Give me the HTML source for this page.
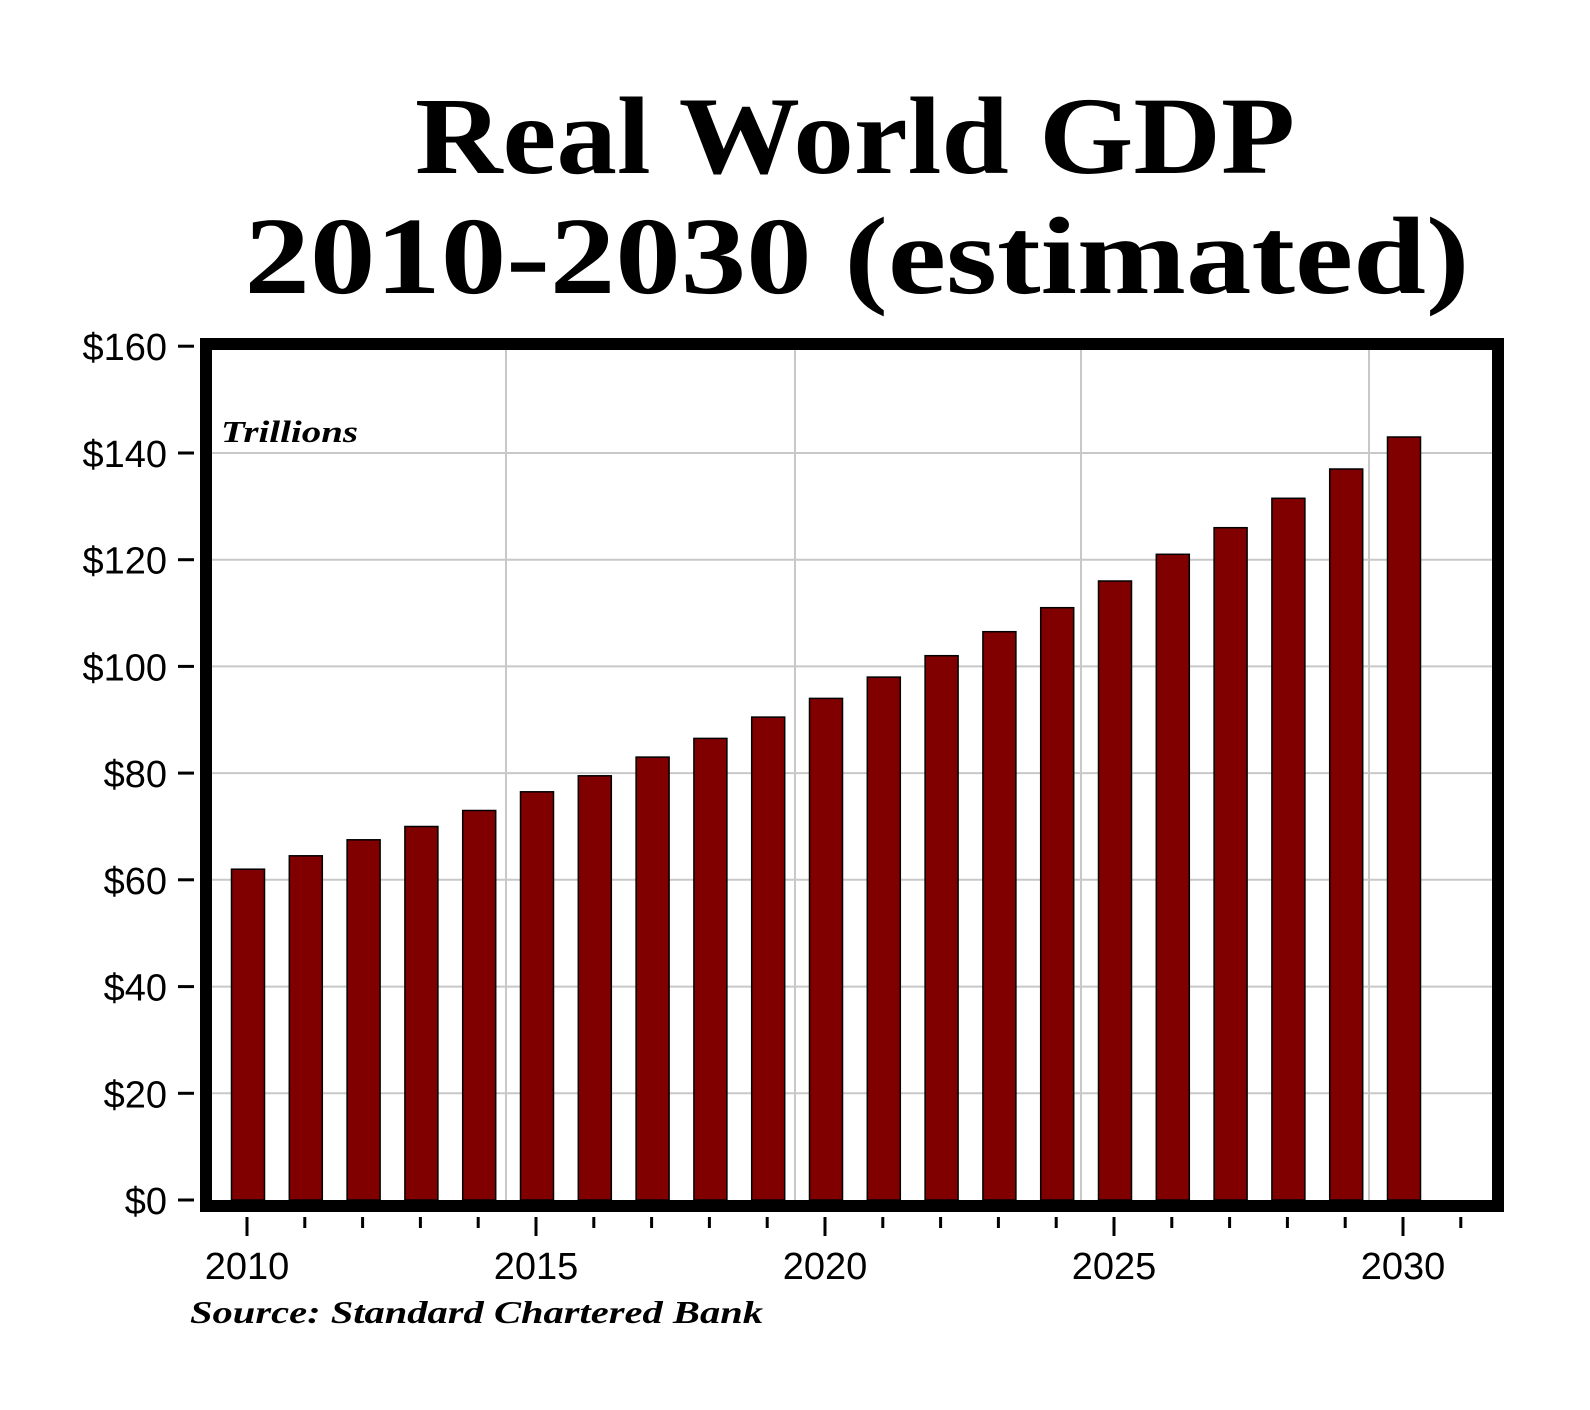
<!DOCTYPE html>
<html><head><meta charset="utf-8"><style>html,body{margin:0;padding:0;background:#fff}svg{display:block}</style></head>
<body>
<svg width="1590" height="1410" viewBox="0 0 1590 1410" xmlns="http://www.w3.org/2000/svg">
<rect width="1590" height="1410" fill="#fff"/>
<text x="855" y="173" text-anchor="middle" font-family="Liberation Serif, serif" font-weight="bold" font-size="110" textLength="880" lengthAdjust="spacingAndGlyphs">Real World GDP</text>
<text x="857" y="293" text-anchor="middle" font-family="Liberation Serif, serif" font-weight="bold" font-size="110" textLength="1225" lengthAdjust="spacingAndGlyphs">2010-2030 (estimated)</text>
<g stroke="#c8c8c8" stroke-width="2">
<line x1="212" x2="1492" y1="1093.3" y2="1093.3"/><line x1="212" x2="1492" y1="986.6" y2="986.6"/><line x1="212" x2="1492" y1="879.8" y2="879.8"/><line x1="212" x2="1492" y1="773.1" y2="773.1"/><line x1="212" x2="1492" y1="666.4" y2="666.4"/><line x1="212" x2="1492" y1="559.7" y2="559.7"/><line x1="212" x2="1492" y1="453" y2="453"/>
<line x1="506" x2="506" y1="350" y2="1200"/><line x1="795" x2="795" y1="350" y2="1200"/><line x1="1081" x2="1081" y1="350" y2="1200"/><line x1="1369" x2="1369" y1="350" y2="1200"/>
</g>
<g fill="#800000" stroke="#000" stroke-width="1.5">
<rect x="231.5" y="869.2" width="33" height="330.8"/>
<rect x="289.3" y="855.8" width="33" height="344.2"/>
<rect x="347.1" y="839.8" width="33" height="360.2"/>
<rect x="404.9" y="826.5" width="33" height="373.5"/>
<rect x="462.7" y="810.5" width="33" height="389.5"/>
<rect x="520.5" y="791.8" width="33" height="408.2"/>
<rect x="578.3" y="775.8" width="33" height="424.2"/>
<rect x="636.1" y="757.1" width="33" height="442.9"/>
<rect x="693.9" y="738.4" width="33" height="461.6"/>
<rect x="751.7" y="717.1" width="33" height="482.9"/>
<rect x="809.5" y="698.4" width="33" height="501.6"/>
<rect x="867.3" y="677.1" width="33" height="522.9"/>
<rect x="925.1" y="655.7" width="33" height="544.3"/>
<rect x="982.9" y="631.7" width="33" height="568.3"/>
<rect x="1040.7" y="607.7" width="33" height="592.3"/>
<rect x="1098.5" y="581.0" width="33" height="619.0"/>
<rect x="1156.3" y="554.3" width="33" height="645.7"/>
<rect x="1214.1" y="527.7" width="33" height="672.3"/>
<rect x="1271.9" y="498.3" width="33" height="701.7"/>
<rect x="1329.7" y="469.0" width="33" height="731.0"/>
<rect x="1387.5" y="437.0" width="33" height="763.0"/>
</g>
<rect x="206" y="344" width="1292" height="862" fill="none" stroke="#000" stroke-width="12"/>
<g stroke="#000" stroke-width="3">
<line x1="247" x2="247" y1="1217" y2="1236"/>
<line x1="304.8" x2="304.8" y1="1217" y2="1228"/>
<line x1="362.6" x2="362.6" y1="1217" y2="1228"/>
<line x1="420.4" x2="420.4" y1="1217" y2="1228"/>
<line x1="478.2" x2="478.2" y1="1217" y2="1228"/>
<line x1="536" x2="536" y1="1217" y2="1236"/>
<line x1="593.8" x2="593.8" y1="1217" y2="1228"/>
<line x1="651.6" x2="651.6" y1="1217" y2="1228"/>
<line x1="709.4" x2="709.4" y1="1217" y2="1228"/>
<line x1="767.2" x2="767.2" y1="1217" y2="1228"/>
<line x1="825" x2="825" y1="1217" y2="1236"/>
<line x1="882.8" x2="882.8" y1="1217" y2="1228"/>
<line x1="940.6" x2="940.6" y1="1217" y2="1228"/>
<line x1="998.4" x2="998.4" y1="1217" y2="1228"/>
<line x1="1056.2" x2="1056.2" y1="1217" y2="1228"/>
<line x1="1114" x2="1114" y1="1217" y2="1236"/>
<line x1="1171.8" x2="1171.8" y1="1217" y2="1228"/>
<line x1="1229.6" x2="1229.6" y1="1217" y2="1228"/>
<line x1="1287.4" x2="1287.4" y1="1217" y2="1228"/>
<line x1="1345.2" x2="1345.2" y1="1217" y2="1228"/>
<line x1="1403" x2="1403" y1="1217" y2="1236"/>
<line x1="1460.8" x2="1460.8" y1="1217" y2="1228"/>
<line x1="178" x2="194" y1="1200" y2="1200"/>
<line x1="178" x2="194" y1="1093.3" y2="1093.3"/>
<line x1="178" x2="194" y1="986.6" y2="986.6"/>
<line x1="178" x2="194" y1="879.8" y2="879.8"/>
<line x1="178" x2="194" y1="773.1" y2="773.1"/>
<line x1="178" x2="194" y1="666.4" y2="666.4"/>
<line x1="178" x2="194" y1="559.7" y2="559.7"/>
<line x1="178" x2="194" y1="453" y2="453"/>
<line x1="178" x2="194" y1="346.2" y2="346.2"/>
</g>
<g font-family="Liberation Sans, sans-serif" font-size="38" text-anchor="end">
<text x="167" y="1214">$0</text>
<text x="167" y="1107.3">$20</text>
<text x="167" y="1000.6">$40</text>
<text x="167" y="893.8">$60</text>
<text x="167" y="787.1">$80</text>
<text x="167" y="680.4">$100</text>
<text x="167" y="573.7">$120</text>
<text x="167" y="467">$140</text>
<text x="167" y="360.2">$160</text>
</g>
<g font-family="Liberation Sans, sans-serif" font-size="38" text-anchor="middle">
<text x="247" y="1279">2010</text><text x="536" y="1279">2015</text><text x="825" y="1279">2020</text><text x="1114" y="1279">2025</text><text x="1403" y="1279">2030</text>
</g>
<text x="221" y="442" font-family="Liberation Serif, serif" font-weight="bold" font-style="italic" font-size="31" textLength="137" lengthAdjust="spacingAndGlyphs">Trillions</text>
<text x="190" y="1323" font-family="Liberation Serif, serif" font-weight="bold" font-style="italic" font-size="32" textLength="573" lengthAdjust="spacingAndGlyphs">Source: Standard Chartered Bank</text>
</svg>
</body></html>
